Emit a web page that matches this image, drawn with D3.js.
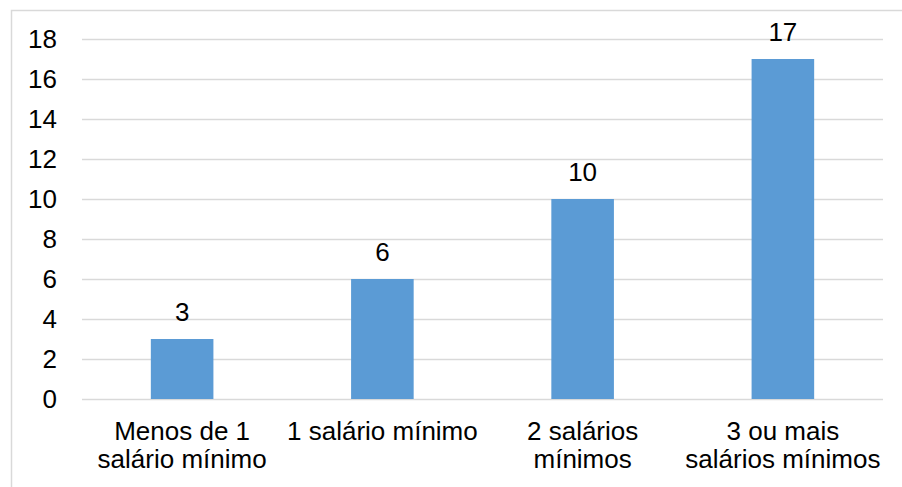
<!DOCTYPE html>
<html>
<head>
<meta charset="utf-8">
<script src="https://cdn.jsdelivr.net/npm/d3@7"></script>
<style>
  html, body { margin: 0; padding: 0; background: #fff; }
  svg { display: block; font-family: "Liberation Sans", Arial, sans-serif; }
</style>
</head>
<body>
<svg id="chart" width="902" height="487"></svg>
<script>
// Income brackets (multi-line labels) and respondent counts
const categories = [
  ["Menos de 1", "salário mínimo"],
  ["1 salário mínimo"],
  ["2 salários", "mínimos"],
  ["3 ou mais", "salários mínimos"]
];
const values = [3, 6, 10, 17];
const yTicks = [0, 2, 4, 6, 8, 10, 12, 14, 16, 18];

const svg = d3.select("#chart");
const W = 902, H = 487;
const plot = { left: 82, right: 883, top: 39, bottom: 399 };
const fontSize = 26;

// Chart frame
svg.append("rect")
  .attr("x", 11.5).attr("y", 10.5)
  .attr("width", W + 20).attr("height", H + 20)
  .attr("fill", "#fff")
  .attr("stroke", "#d9d9d9")
  .attr("stroke-width", 1.5);

const x = d3.scaleBand()
  .domain(d3.range(categories.length))
  .range([plot.left, plot.right])
  .paddingInner(0.6875)
  .paddingOuter(0.6875 / 2);

const y = d3.scaleLinear()
  .domain([0, 18])
  .range([plot.bottom, plot.top]);

// Horizontal gridlines
svg.append("g")
  .selectAll("line")
  .data(yTicks)
  .join("line")
  .attr("x1", plot.left).attr("x2", plot.right)
  .attr("y1", d => Math.round(y(d)) + 0.5)
  .attr("y2", d => Math.round(y(d)) + 0.5)
  .attr("stroke", "#d9d9d9")
  .attr("stroke-width", 1.5);

// Y axis labels
const yAxis = d3.axisLeft(y).tickValues(yTicks).tickSize(0).tickPadding(0);
svg.append("g")
  .attr("transform", `translate(${plot.left - 25},0)`)
  .call(yAxis)
  .call(g => g.select(".domain").remove())
  .call(g => g.selectAll("text")
    .attr("font-size", fontSize)
    .attr("font-family", "Liberation Sans, Arial, sans-serif")
    .attr("fill", "#000"));

// Bars
svg.append("g")
  .selectAll("rect")
  .data(values)
  .join("rect")
  .attr("x", (d, i) => x(i))
  .attr("y", d => y(d))
  .attr("width", x.bandwidth())
  .attr("height", d => y(0) - y(d))
  .attr("fill", "#5b9bd5");

// Value labels above bars
svg.append("g")
  .selectAll("text")
  .data(values)
  .join("text")
  .attr("x", (d, i) => x(i) + x.bandwidth() / 2)
  .attr("y", d => y(d) - 18)
  .attr("text-anchor", "middle")
  .attr("font-size", fontSize)
  .attr("fill", "#000")
  .text(d => d);

// Category labels under the axis
const catG = svg.append("g");
categories.forEach((lines, i) => {
  const t = catG.append("text")
    .attr("x", x(i) + x.bandwidth() / 2)
    .attr("y", 440)
    .attr("text-anchor", "middle")
    .attr("font-size", fontSize)
    .attr("fill", "#000");
  lines.forEach((ln, j) => {
    t.append("tspan")
      .attr("x", x(i) + x.bandwidth() / 2)
      .attr("dy", j === 0 ? 0 : 28)
      .text(ln);
  });
});
</script>
</body>
</html>
